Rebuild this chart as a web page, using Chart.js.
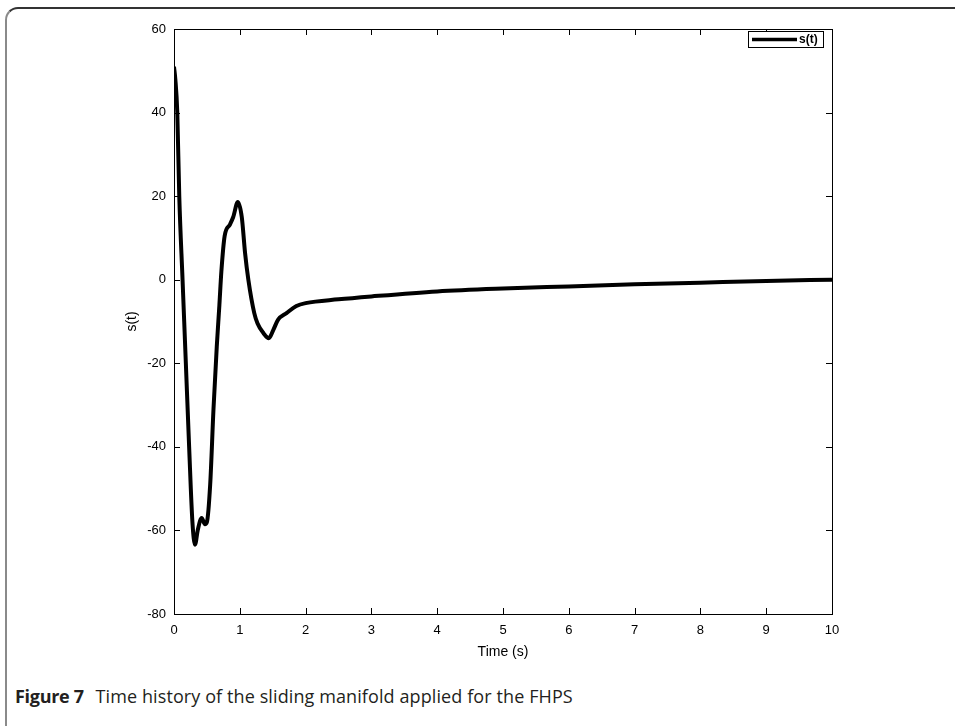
<!DOCTYPE html>
<html>
<head>
<meta charset="utf-8">
<script src="https://cdn.jsdelivr.net/npm/chart.js@4.4.1/dist/chart.umd.min.js"></script>
<style>
  body { margin: 0; background: #fff; width: 955px; height: 726px; overflow: hidden; position: relative; }
  .frame { position: absolute; left: 5px; top: 7px; width: 970px; height: 740px;
           border-top: 2px solid #333; border-left: 2px solid #8a8a8a; border-top-left-radius: 13px; }
  .wrap-chart { position: absolute; left: 0; top: 0; }
  .caption { position: absolute; left: 15px; top: 684px; font-family: "Open Sans", sans-serif;
             font-size: 18px; letter-spacing: 0.1px; color: #231f20; white-space: nowrap; }
  .caption b { font-weight: 700; margin-right: 7px; letter-spacing: -0.3px; }
</style>
</head>
<body>
<div class="frame"></div>
<div class="wrap-chart"><canvas width="955" height="680"></canvas></div>
<div class="caption"><b>Figure 7</b> Time history of the sliding manifold applied for the FHPS</div>
<script>
// values
const time = [0, 0.02, 0.05, 0.08, 0.13, 0.18, 0.23, 0.28, 0.32, 0.36, 0.42, 0.47, 0.5, 0.55, 0.6, 0.65,
    0.69, 0.72, 0.77, 0.85, 0.9, 0.97, 1.03, 1.08, 1.13, 1.22, 1.27, 1.36, 1.44, 1.51, 1.58, 1.71,
    1.86, 2.0, 2.5, 3, 4, 5, 6, 7, 8, 9, 10];
const sValues = [51, 48, 40, 20, 0, -20, -40, -58, -63.4, -60, -57, -58.5, -58, -49, -31, -16,
    -6, 2, 10.5, 13.2, 15, 18.6, 15, 6.4, 0, -8, -10.5, -12.8, -14, -12, -9.6, -8,
    -6.3, -5.6, -4.7, -4.0, -2.8, -2.1, -1.6, -1.1, -0.7, -0.3, 0];
const xTicks = [0, 1, 2, 3, 4, 5, 6, 7, 8, 9, 10];
const yTicks = [-80, -60, -40, -20, 0, 20, 40, 60];

const fontFam = 'Liberation Sans, Arial, sans-serif';
const axisFont = { family: fontFam, size: 13 };

// matlab style box, inward ticks and the legend inside the axes
const boxPlugin = {
    id: 'box',
    afterDraw(chart) {
        const ctx = chart.ctx;
        const a = chart.chartArea;
        const xs = chart.scales.x, ys = chart.scales.y;
        ctx.save();
        ctx.strokeStyle = '#000';
        ctx.lineWidth = 1;
        ctx.strokeRect(a.left + 0.5, a.top + 0.5, a.right - a.left, a.bottom - a.top);
        ctx.beginPath();
        xTicks.forEach(v => {
            const px = Math.round(xs.getPixelForValue(v)) + 0.5;
            ctx.moveTo(px, a.bottom); ctx.lineTo(px, a.bottom - 6);
            ctx.moveTo(px, a.top); ctx.lineTo(px, a.top + 6);
        });
        yTicks.forEach(v => {
            const py = Math.round(ys.getPixelForValue(v)) + 0.5;
            ctx.moveTo(a.left, py); ctx.lineTo(a.left + 6, py);
            ctx.moveTo(a.right, py); ctx.lineTo(a.right - 6, py);
        });
        ctx.stroke();

        // legend
        const lx = a.right - 84, ly = a.top + 2, lw = 75, lh = 16;
        ctx.fillStyle = '#fff';
        ctx.fillRect(lx, ly, lw, lh);
        ctx.strokeRect(lx + 0.5, ly + 0.5, lw, lh);
        ctx.beginPath();
        ctx.lineWidth = 3.5;
        ctx.moveTo(lx + 4, ly + lh / 2 + 0.5);
        ctx.lineTo(lx + 49, ly + lh / 2 + 0.5);
        ctx.stroke();
        ctx.fillStyle = '#000';
        ctx.font = 'bold 12px ' + fontFam;
        ctx.textBaseline = 'middle';
        ctx.fillText(chart.data.datasets[0].label, lx + 51, ly + lh / 2 + 1);
        ctx.restore();
    }
};

const ctx = document.querySelector('.wrap-chart canvas').getContext('2d');
const chart = new Chart(ctx, {
    type: 'line',
    data: {
        datasets: [{
            label: 's(t)',
            data: time.map((t, i) => ({ x: t, y: sValues[i] })),
            borderColor: '#000',
            backgroundColor: 'transparent',
            borderWidth: 4,
            pointRadius: 0,
            cubicInterpolationMode: 'monotone',
        }]
    },
    options: {
        responsive: false,
        animation: false,
        layout: { padding: { left: 120, right: 123, top: 29, bottom: 15 } },
        plugins: { legend: { display: false }, tooltip: { enabled: false } },
        scales: {
            x: {
                type: 'linear', min: 0, max: 10,
                afterBuildTicks: s => { s.ticks = xTicks.map(v => ({ value: v })); },
                afterFit: s => { s.height = 51; },
                grid: { display: false, drawTicks: false },
                border: { display: false },
                ticks: { color: '#000', font: axisFont, padding: 9, maxRotation: 0 },
                title: { display: true, text: 'Time (s)', color: '#000',
                         font: { family: fontFam, size: 14 }, padding: 4 }
            },
            y: {
                type: 'linear', min: -80, max: 60,
                afterBuildTicks: s => { s.ticks = yTicks.map(v => ({ value: v })); },
                afterFit: s => { s.width = 54; },
                grid: { display: false, drawTicks: false },
                border: { display: false },
                ticks: { color: '#000', font: axisFont, padding: 8 },
                title: { display: true, text: 's(t)', color: '#000',
                         font: { family: fontFam, size: 14 }, padding: 4 }
            }
        }
    },
    plugins: [boxPlugin]
});
</script>
</body>
</html>
